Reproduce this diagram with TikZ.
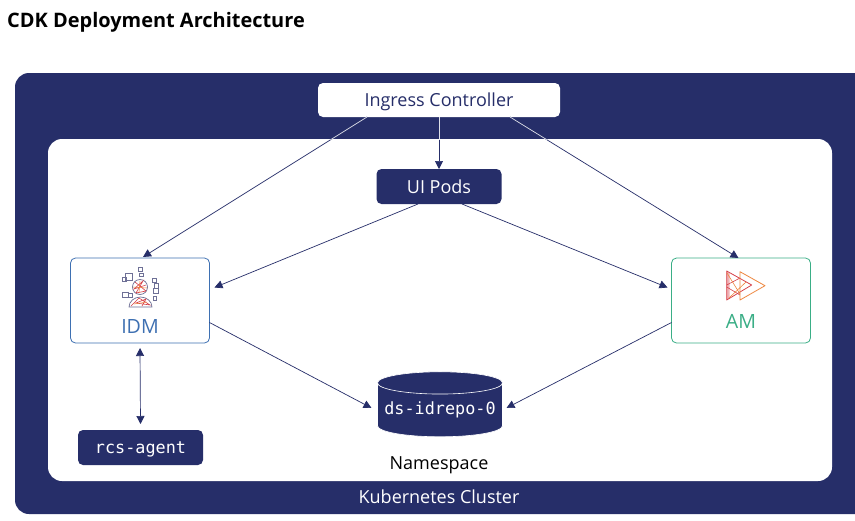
\documentclass[tikz,border=0pt]{standalone}
\usepackage{fontspec}
\setmainfont{Open Sans}
\setmonofont{DejaVu Sans Mono}
\usetikzlibrary{shapes.geometric, arrows.meta, positioning}
\definecolor{clustercolor}{RGB}{38,46,105}
\definecolor{idmcolor}{RGB}{62,112,178}
\definecolor{amcolor}{RGB}{58,174,134}
\definecolor{iconred}{RGB}{214,64,72}
\definecolor{iconorange}{RGB}{238,134,62}
\definecolor{iconsquare}{RGB}{110,112,150}
\tikzset{
    darkblock/.style={rectangle, fill=clustercolor, rounded corners=5pt, text=white,
        outer sep=0pt, inner sep=0pt, minimum width=125pt, minimum height=35pt},
    lightblock/.style={rectangle, fill=white, rounded corners=5pt, line width=0.8pt,
        outer sep=0pt, inner sep=0pt, minimum width=139pt, minimum height=85pt},
    label/.style={inner sep=0pt, text depth=0pt, font=\fontsize{18}{20}\selectfont},
    codelabel/.style={inner sep=0pt, text depth=0pt, font=\ttfamily\fontsize{16.8}{20}\selectfont},
    arrow/.style={-{Triangle[length=8pt, width=8pt]}, line width=0.7pt, clustercolor},
    iconsq/.style={draw=iconsquare, line width=0.7pt}
}

\begin{document}
\begin{tikzpicture}[x=1pt, y=-1pt]

    \useasboundingbox (0,0) rectangle (855,520);
    \fill[white] (0,0) rectangle (855,520);

    \node[anchor=west, inner sep=0pt, text depth=0pt, font=\bfseries\fontsize{19.95}{22}\selectfont] (title) at (7,20) {CDK Deployment Architecture};

    % cluster and namespace
    \fill[clustercolor] (855,73) -- (855,514) [rounded corners=14pt] -- (15,514) -- (15,73) [sharp corners] -- cycle;
    \node[rectangle, fill=white, rounded corners=14pt, minimum width=784pt, minimum height=342pt, inner sep=0pt] (namespace) at (440,310) {};

    \node[rectangle, fill=white, rounded corners=5pt, minimum width=242pt, minimum height=34pt, outer sep=0pt, text=clustercolor, label] (ingress) at (439,100) {Ingress Controller};
    \node[darkblock, label, below=52pt of ingress] (ui) {UI Pods};

    \node[lightblock, draw=idmcolor] (idm) at (140,300.5) {};
    \node[lightblock, draw=amcolor] (am) at (741,300.5) {};
    \node[label, text=idmcolor, font=\fontsize{19.6}{22}\selectfont] (idmlabel) at (140,326) {IDM};
    \node[label, text=amcolor, font=\fontsize{19.6}{22}\selectfont] (amlabel) at (741,321) {AM};

    \node[cylinder, shape border rotate=90, aspect=0.2, fill=clustercolor, draw=white, line width=0.6pt,
        minimum height=65pt, minimum width=125pt, outer sep=0pt, text=white, codelabel, text depth=4pt] (ds) at (440,410) {ds-idrepo-0};
    \node[darkblock, codelabel, minimum height=35pt] (rcs) at (140.5,447.5) {rcs-agent};

    \node[label, text=black] (nslabel) at (439,463) {Namespace};
    \node[label, text=white] (k8slabel) at (439,497) {Kubernetes Cluster};

    % connectors
    \draw[arrow] ([xshift=-72pt]ingress.south) -- ([xshift=3pt,yshift=1pt]idm.north);
    \draw[arrow] ([xshift=71pt]ingress.south) -- ([xshift=-2.5pt,yshift=0pt]am.north);
    \draw[arrow] (ingress) -- (ui);
    \draw[arrow] ([xshift=-21pt]ui.south) -- ([xshift=5pt,yshift=13pt]idm.east);
    \draw[arrow] ([xshift=23pt]ui.south) -- ([xshift=-4pt,yshift=13pt]am.west);
    \draw[arrow] ([yshift=-22pt]idm.east) -- ([xshift=-6pt,yshift=2pt]ds.west);
    \draw[arrow] ([yshift=-22pt]am.west) -- ([xshift=4pt,yshift=2pt]ds.east);
    \draw[{Triangle[length=8pt, width=8pt]}-{Triangle[length=8pt, width=8pt]}, line width=0.7pt, clustercolor] ([yshift=-5pt]idm.south) -- ([yshift=6pt]rcs.north);

    % same lines, light where they cross the cluster
    \begin{scope}
        \clip (0,117) rectangle (855,139);
        \draw[white!85!clustercolor, line width=0.7pt] ([xshift=-72pt]ingress.south) -- ([xshift=3pt,yshift=1pt]idm.north);
        \draw[white!85!clustercolor, line width=0.7pt] ([xshift=71pt]ingress.south) -- ([xshift=-2.5pt,yshift=0pt]am.north);
        \draw[white!85!clustercolor, line width=0.7pt] (ingress) -- (ui);
    \end{scope}

    % idm icon
    \foreach \a/\b/\c/\d in {125/273/132/280, 122/277/126/281, 138/267/142/271, 139/273/143/276,
        152/278/156/282, 154/283/158/288, 153/288/158/293, 153/296/156/300, 122/292/128/297, 128/293/132/297}
        \draw[iconsq] (\a,\b) rectangle (\c,\d);
    \draw[iconsq] (140,287) circle (7.5pt);
    \draw[iconsq] (129,307) arc[start angle=180, end angle=0, x radius=11.5pt, y radius=10pt] -- cycle;
    \draw[iconred, line width=0.6pt] (135,282) -- (146,291) -- (136,293) -- (143,281) -- (134,289) -- (146,285)
        (131,306) -- (139,298) -- (150,305) -- (136,303) -- (146,299) -- (142,306);
    \draw[iconorange, line width=0.5pt] (133,287) -- (147,288) (140,281) -- (139,293) (134,304) -- (147,302);

    % am icon
    \fill[iconred!40] (726.7,271) -- (729.5,273) -- (729.5,298) -- (726.7,300) -- cycle;
    \draw[iconred, line width=0.8pt, line join=round] (726.7,271) -- (751.7,285) -- (726.7,300) -- cycle;
    \draw[iconred, line width=0.6pt] (726.7,285) -- (740,278) (726.7,287) -- (740,295);
    \draw[iconorange, line width=0.6pt] (727,273) -- (740,294) (729,298) -- (746,282);
    \draw[iconorange, line width=0.8pt, line join=round] (740,271.7) -- (765,285.7) -- (740,300) -- cycle;

\end{tikzpicture}
\end{document}
